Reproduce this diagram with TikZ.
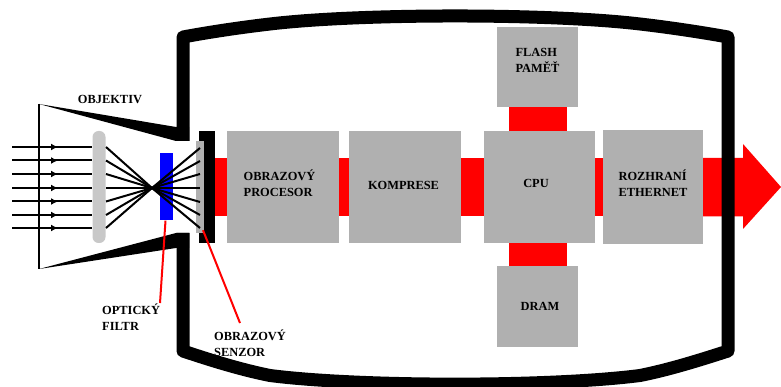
\documentclass[tikz,border=0pt]{standalone}
\usepackage{fontspec}
\setmainfont{Liberation Serif}
\usetikzlibrary{arrows.meta}
\definecolor{boxgray}{HTML}{B0B0B0}
\definecolor{lensgray}{HTML}{C8C8C8}
\tikzset{
    blok/.style={fill=boxgray, inner sep=0pt},
    popis/.style={inner sep=0pt, align=left, font=\fontsize{12.4}{16}\selectfont\bfseries},
    sbernice/.style={red, line width=58pt},
    paprsek/.style={black, line width=2pt},
    odkaz/.style={red, line width=2pt},
}
\begin{document}
\begin{tikzpicture}[x=1pt, y=-1pt]
    \useasboundingbox (0,0) rectangle (781,387);
    % bloky
    \node[blok, minimum width=112pt, minimum height=112pt] (procesor) at (283,187) {};
    \node[blok, minimum width=112pt, minimum height=112pt] (komprese) at (405,187) {};
    \node[blok, minimum width=111pt, minimum height=112pt] (cpu) at (539.5,187) {};
    \node[blok, minimum width=81pt, minimum height=80pt] (flash) at (537.5,67) {};
    \node[blok, minimum width=81pt, minimum height=81pt] (dram) at (537.5,306.5) {};
    \node[blok, minimum width=100pt, minimum height=114pt] (ethernet) at (653,187) {};
    \node[popis] (procesortext) at (279.5,183.5) {OBRAZOVÝ\\PROCESOR};
    \node[popis] (kompresetext) at (403.5,185) {KOMPRESE};
    \node[popis] (cputext) at (536,183) {CPU};
    \node[popis] (flashtext) at (537.5,60.5) {FLASH\\PAMĚŤ};
    \node[popis] (dramtext) at (540,306) {DRAM};
    \node[popis] (ethernettext) at (653,183.5) {ROZHRANÍ\\ETHERNET};
    % senzor
    \node[fill=black, inner sep=0pt, minimum width=16pt, minimum height=112pt] (drzak) at (207,187) {};
    \node[fill=boxgray, inner sep=0pt, minimum width=8pt, minimum height=92pt] (senzor) at (200,187) {};
    % sbernice
    \fill[red] (ethernet.east |- 0,158) -- (743,158) -- (743,144) -- (781,187) -- (743,229) -- (743,216.5) -- (ethernet.east |- 0,216.5) -- cycle;
    \draw[sbernice] (drzak.east) -- (procesor.west);
    \draw[sbernice] (procesor.east) -- (komprese.west);
    \draw[sbernice] (komprese.east) -- (cpu.west);
    \draw[sbernice] (cpu.east) -- (ethernet.west);
    \draw[sbernice] (flash.south) -- (flash.south |- cpu.north);
    \draw[sbernice] (dram.north) -- (dram.north |- cpu.south);
    % telo
    \draw[line width=13pt, line join=round] (183,141) -- (183,37)
        .. controls (210,32) and (240,27.5) .. (270,24)
        .. controls (360,13.3) and (550,13.3) .. (640,24)
        .. controls (670,27.5) and (700,32) .. (728,37) -- (728,351)
        .. controls (700,360) and (670,369.5) .. (640,375.5)
        .. controls (550,387) and (360,387) .. (270,375.5)
        .. controls (240,369.5) and (210,360) .. (183,351) -- (183,233);
    % objektiv
    \fill (39,104) -- (176,127) -- (189,127) -- (189,141) -- (176,141) -- cycle;
    \fill (39,269) -- (176,233) -- (189,233) -- (189,248) -- (176,248) -- cycle;
    \draw[line width=1.5pt] (39,104) -- (39,269);
    \node[fill=lensgray, rounded corners=6pt, inner sep=0pt, minimum width=13pt, minimum height=112pt] (cocka) at (99,187) {};
    \node[fill=blue, inner sep=0pt, minimum width=13pt, minimum height=67pt] (filtr) at (166.5,187) {};
    \coordinate (ohnisko) at (152,188);
    % paprsky
    \foreach \y/\z in {147/-40,160.5/-27,174/-14,188/0,201.5/14,215/27,228/40}{
        \draw[paprsek] (12,\y) -- (cocka.west |- 0,\y);
        \draw[paprsek, -{Latex[length=7pt,width=7pt]}] (50,\y) -- (58,\y);
        \draw[paprsek] (106,\y) -- (ohnisko) -- (200,188+\z);
    }
    % popisky
    \node[popis] (objektiv) at (110,99) {OBJEKTIV};
    \node[popis, anchor=north west] (optlabel) at (102,304) {OPTICKÝ\\FILTR};
    \node[popis, anchor=north west] (senlabel) at (214,330) {OBRAZOVÝ\\SENZOR};
    \coordinate (optkonec) at (160,303);
    \coordinate (senkonec) at (240,323);
    \draw[odkaz] (filtr.south) ++(-1,0) -- (optkonec);
    \draw[odkaz] (senzor.south) ++(3,-3) -- (senkonec);
\end{tikzpicture}
\end{document}
